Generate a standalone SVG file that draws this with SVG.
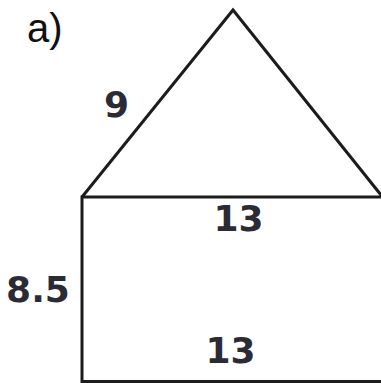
<svg xmlns="http://www.w3.org/2000/svg" width="381" height="383" viewBox="0 0 381 383">
<style>
.ln{fill:none;stroke:#1c1c1c;stroke-width:3;stroke-linejoin:miter}
.num{font-family:"DejaVu Sans",sans-serif;font-weight:bold;font-size:36px;fill:#2b2b36;text-anchor:middle}
.lbl{font-family:"Liberation Sans",Arial,sans-serif;font-size:40px;fill:#111}
</style>
<rect width="381" height="383" fill="#fff"/>
<g id="roof">
<polyline class="ln" points="82,197 233,10 385,200"/>
</g>
<g id="body">
<polyline class="ln" points="385,197 82,197 82,381.5 385,381.5"/>
</g>
<g id="labels">
<text class="lbl" x="27" y="42">a)</text>
<text class="num" x="116.5" y="117">9</text>
<text class="num" x="238.5" y="231">13</text>
<text class="num" x="38" y="302">8.5</text>
<text class="num" x="230.5" y="363">13</text>
</g>
</svg>
